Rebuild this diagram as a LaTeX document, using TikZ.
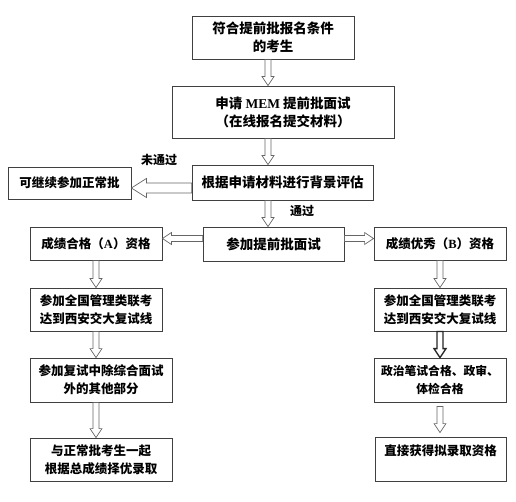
\documentclass[tikz,border=0pt]{standalone}
\usepackage{fontspec}
\setmainfont{Noto Sans CJK SC}
\newfontfamily\lat{Liberation Serif}
\usetikzlibrary{calc,positioning}
\tikzset{
    box/.style={rectangle, draw=black!75, line width=0.8pt, inner sep=0pt, align=center, font=\bfseries\fontsize{13.5}{18}\selectfont},
    side/.style={box, minimum width=132pt, font=\bfseries\fontsize{12.5}{18}\selectfont},
    lbl/.style={font=\bfseries\fontsize{12}{14}\selectfont},
    big/.code={\def\shaftw{5pt}\def\headw{9.5pt}\def\headl{15pt}},
    heavy/.style={draw=black!85, line width=1.3pt},
    hollow/.style={draw=black!60, line width=0.7pt, line join=miter, to path={
        ($(\tikztostart)!\shaftw!90:(\tikztotarget)$)
        -- ($(\tikztotarget)!\headl!(\tikztostart)!\shaftw!-90:(\tikztostart)$)
        -- ($(\tikztotarget)!\headl!(\tikztostart)!\headw!-90:(\tikztostart)$)
        -- (\tikztotarget)
        -- ($(\tikztotarget)!\headl!(\tikztostart)!\headw!90:(\tikztostart)$)
        -- ($(\tikztotarget)!\headl!(\tikztostart)!\shaftw!90:(\tikztostart)$)
        -- ($(\tikztostart)!\shaftw!-90:(\tikztotarget)$) -- cycle}}
}
\def\shaftw{3pt}\def\headw{6pt}\def\headl{9pt}
\begin{document}
\begin{tikzpicture}[x=1pt, y=-1pt]
\useasboundingbox (0,0) rectangle (516,502);
\fill[white] (0,0) rectangle (516,502);

% Main column
\node[box, minimum width=162pt, minimum height=43pt] (start) at (273,37.5) {符合提前批报名条件\\的考生};
\node[box, minimum width=222pt, minimum height=52pt] (apply) at (283,112) {申请 {\lat MEM} 提前批面试\\（在线报名提交材料）};
\node[box, minimum width=181pt, minimum height=35pt] (review) at (282.5,182.5) {根据申请材料进行背景评估};
\node[box, minimum width=123pt, minimum height=32pt, font=\bfseries\fontsize{12.5}{18}\selectfont] (normal) at (69.5,183) {可继续参加正常批};
\node[box, minimum width=141pt, minimum height=34pt] (interview) at (273.5,244) {参加提前批面试};

% Branch A
\node[side, minimum height=33pt] (gradeA) at (96,243.5) {成绩合格（{\lat A}）资格};
\node[side, minimum height=43pt] (examA) at (96,309.5) {参加全国管理类联考\\达到西安交大复试线};
\node[side, minimum width=142pt, minimum height=44pt] (retestA) at (101,380) {参加复试中除综合面试\\外的其他部分};
\node[side, minimum width=142pt, minimum height=43pt] (admitA) at (101,459.5) {与正常批考生一起\\根据总成绩择优录取};

% Branch B
\node[side, minimum height=33pt] (gradeB) at (440,243.5) {成绩优秀（{\lat B}）资格};
\node[side, minimum height=43pt] (examB) at (440,309.5) {参加全国管理类联考\\达到西安交大复试线};
\node[side, minimum height=44pt, font=\bfseries\fontsize{11.8}{18}\selectfont] (checkB) at (440,380) {政治笔试合格、政审、\\体检合格};
\node[side, minimum width=131pt, minimum height=44pt] (admitB) at (440.5,459) {直接获得拟录取资格\\\mbox{}};

% Labels
\node[lbl] (fail) at (159,160) {未通过};
\node[lbl] (pass) at (302,211) {通过};

% Arrow lines
\coordinate (spine) at (268,0);
\coordinate (colA) at (96,0);
\coordinate (colB) at (440,0);
\coordinate (rowN) at (0,188);
\coordinate (rowI) at (0,238.5);
\coordinate (gapB1) at ($(checkB.south -| colB)+(0,4)$);
\coordinate (gapB2) at ($(admitB.north -| colB)+(0,-4)$);

\draw[hollow] (start.south -| spine) to (apply.north -| spine);
\draw[hollow] (apply.south -| spine) to (review.north -| spine);
\draw[hollow] (review.south -| spine) to (interview.north -| spine);
\draw[hollow, big] (review.west |- rowN) to (normal.east |- rowN);
\draw[hollow] (interview.west |- rowI) to (gradeA.east |- rowI);
\draw[hollow] (interview.east |- rowI) to (gradeB.west |- rowI);

\draw[hollow] (gradeA.south -| colA) to (examA.north -| colA);
\draw[hollow] (examA.south -| colA) to (retestA.north -| colA);
\draw[hollow] (retestA.south -| colA) to (admitA.north -| colA);

\draw[hollow] (gradeB.south -| colB) to (examB.north -| colB);
\draw[hollow, heavy] (examB.south -| colB) to (checkB.north -| colB);
\draw[hollow] (gapB1) to (gapB2);

\end{tikzpicture}
\end{document}
